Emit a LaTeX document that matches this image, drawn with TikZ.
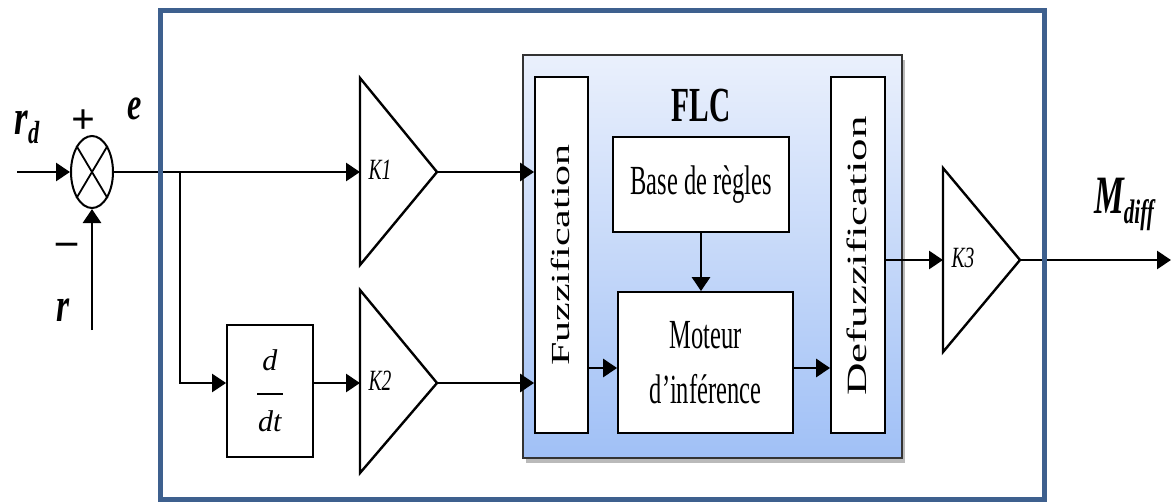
\documentclass[tikz,border=0pt]{standalone}
\usepackage{fontspec}
\setmainfont{Liberation Serif}
\usepackage{graphicx}
\usetikzlibrary{arrows.meta,shadows,calc,shapes.geometric}

\definecolor{frameblue}{RGB}{62,96,142}
\definecolor{flctop}{RGB}{234,240,252}
\definecolor{flcbot}{RGB}{160,192,246}

% condensed text: horizontal and vertical scale factors
\newcommand{\sqz}[2][0.66]{\scalebox{#1}[1]{#2}}
\newcommand{\tallsqz}[1]{\scalebox{0.68}[1.15]{#1}}
\newcommand{\fs}[1]{\fontsize{#1}{#1}\selectfont}

\tikzset{
  x=1pt, y=-1pt,
  frame/.style={draw=frameblue, line width=5pt},
  panel/.style={draw=black!80, line width=2pt, top color=flctop, bottom color=flcbot,
    drop shadow={shadow xshift=3pt, shadow yshift=-5pt, opacity=0.45, fill=black!60}},
  blk/.style={draw=black, line width=1.8pt, fill=white, inner sep=0pt},
  gain/.style={draw=black, line width=2.4pt, fill=white, line join=miter},
  wire/.style={line width=2.8pt, -{Triangle[length=14pt,width=18pt]}},
  thinwire/.style={line width=2.2pt, -{Triangle[length=14pt,width=18pt]}},
  lbl/.style={inner sep=0pt},
}

\begin{document}
\begin{tikzpicture}
\useasboundingbox (0,0) rectangle (1172,501);

% ---------- FLC panel ----------
\node[panel, minimum width=379pt, minimum height=403pt] (flc) at (712.5,256.5) {};
\node[lbl] (flct) at (701,106) {\fs{49}\sqz[0.6]{\bfseries FLC}};

\node[blk, minimum width=53pt, minimum height=356pt] (fuzz) at (561.5,255) {};
\node[lbl, rotate=90] (fuzzt) at (560,255) {\fs{42}\scalebox{1}[0.62]{Fuzzification}};

\node[blk, minimum width=54pt, minimum height=356pt] (defuzz) at (858,255) {};
\node[lbl, rotate=90] (defuzzt) at (857,256) {\fs{45}\scalebox{1}[0.62]{Defuzzification}};

\node[blk, minimum width=176pt, minimum height=95pt] (base) at (701,184.5)
  {\fs{36}\tallsqz{Base de règles}};

\node[blk, minimum width=175pt, minimum height=141pt, align=center,
      font=\fs{36}] (mot) at (705.5,362.5)
  {\tallsqz{Moteur}\\[19pt]\tallsqz{d’inférence}};

% ---------- derivative block ----------
\node[blk, minimum width=86pt, minimum height=132pt, align=center,
      font=\fs{30}] (ddt) at (270,391)
  {\textit{d}\\[-6pt]\rule{26pt}{1.6pt}\\[7pt]\textit{dt}};

% ---------- summing junction ----------
\node[draw=black, line width=2pt, ellipse, minimum width=42pt, minimum height=72pt,
      inner sep=0pt] (sum) at (92,172) {};
\draw[line width=1.8pt] (sum.north west) -- (sum.south east)
                        (sum.north east) -- (sum.south west);

% ---------- gains ----------
\coordinate (k1in)  at (360,172);
\coordinate (k1out) at (437,172);
\draw[gain] (360,78) -- (k1out) -- (360,265) -- cycle;
\node[lbl] (k1t) at (380,170) {\fs{28}\scalebox{0.7}[1.05]{\itshape K1}};

\coordinate (k2in)  at (360,383);
\coordinate (k2out) at (437,383);
\draw[gain] (360,290) -- (k2out) -- (360,473) -- cycle;
\node[lbl] (k2t) at (380,381) {\fs{28}\scalebox{0.7}[1.05]{\itshape K2}};

\coordinate (k3in)  at (943,260);
\coordinate (k3out) at (1020,260);
\draw[gain] (943,168) -- (k3out) -- (943,352) -- cycle;
\node[lbl] (k3t) at (963,258) {\fs{28}\scalebox{0.7}[1.05]{\itshape K3}};

% ---------- signal lines ----------
\coordinate (rdin) at (17,172);
\coordinate (rin)  at (92,330);
\coordinate (br)   at (180,172);
\coordinate (mout) at (1171,260);

\draw[wire] (rdin) -- (sum.west);
\draw[wire] (rin) -- (sum.south);
\draw[wire] (sum.east) -- (k1in);
\draw[thinwire] (br) |- (ddt.west |- k2in);
\draw[wire] (ddt.east |- k2in) -- (k2in);
\draw[wire] (k1out) -- (fuzz.west |- k1out);
\draw[wire] (k2out) -- (fuzz.west |- k2out);
\draw[wire] (base.south) -- (base.south |- mot.north);
\draw[wire] (fuzz.east |- 0,368) -- (mot.west |- 0,368);
\draw[wire] (mot.east |- 0,368) -- (defuzz.west |- 0,368);
\draw[wire] (defuzz.east |- k3in) -- (k3in);
\draw[wire] (k3out) -- (mout);

% ---------- signal labels ----------
\node[lbl] (rd) at (27,127) {\sqz[0.7]{\bfseries\itshape\fs{50}r\fs{32}\raisebox{-9pt}{d}}};
\node[lbl] (plus) at (83,122) {\fs{42}\bfseries +};
\node[lbl] (minus) at (67,249) {\fs{42}\bfseries –};
\node[lbl] (e) at (135,109) {\fs{46}\sqz[0.7]{\bfseries\itshape e}};
\node[lbl] (r) at (63,310) {\fs{48}\sqz[0.7]{\bfseries\itshape r}};
\node[lbl] (md) at (1124,204) {\sqz[0.62]{\bfseries\itshape\fs{54}M\fs{34}\raisebox{-10pt}{diff}}};

% ---------- outer frame ----------
\draw[frame] (160,10) rectangle (1044,499);
\end{tikzpicture}
\end{document}
